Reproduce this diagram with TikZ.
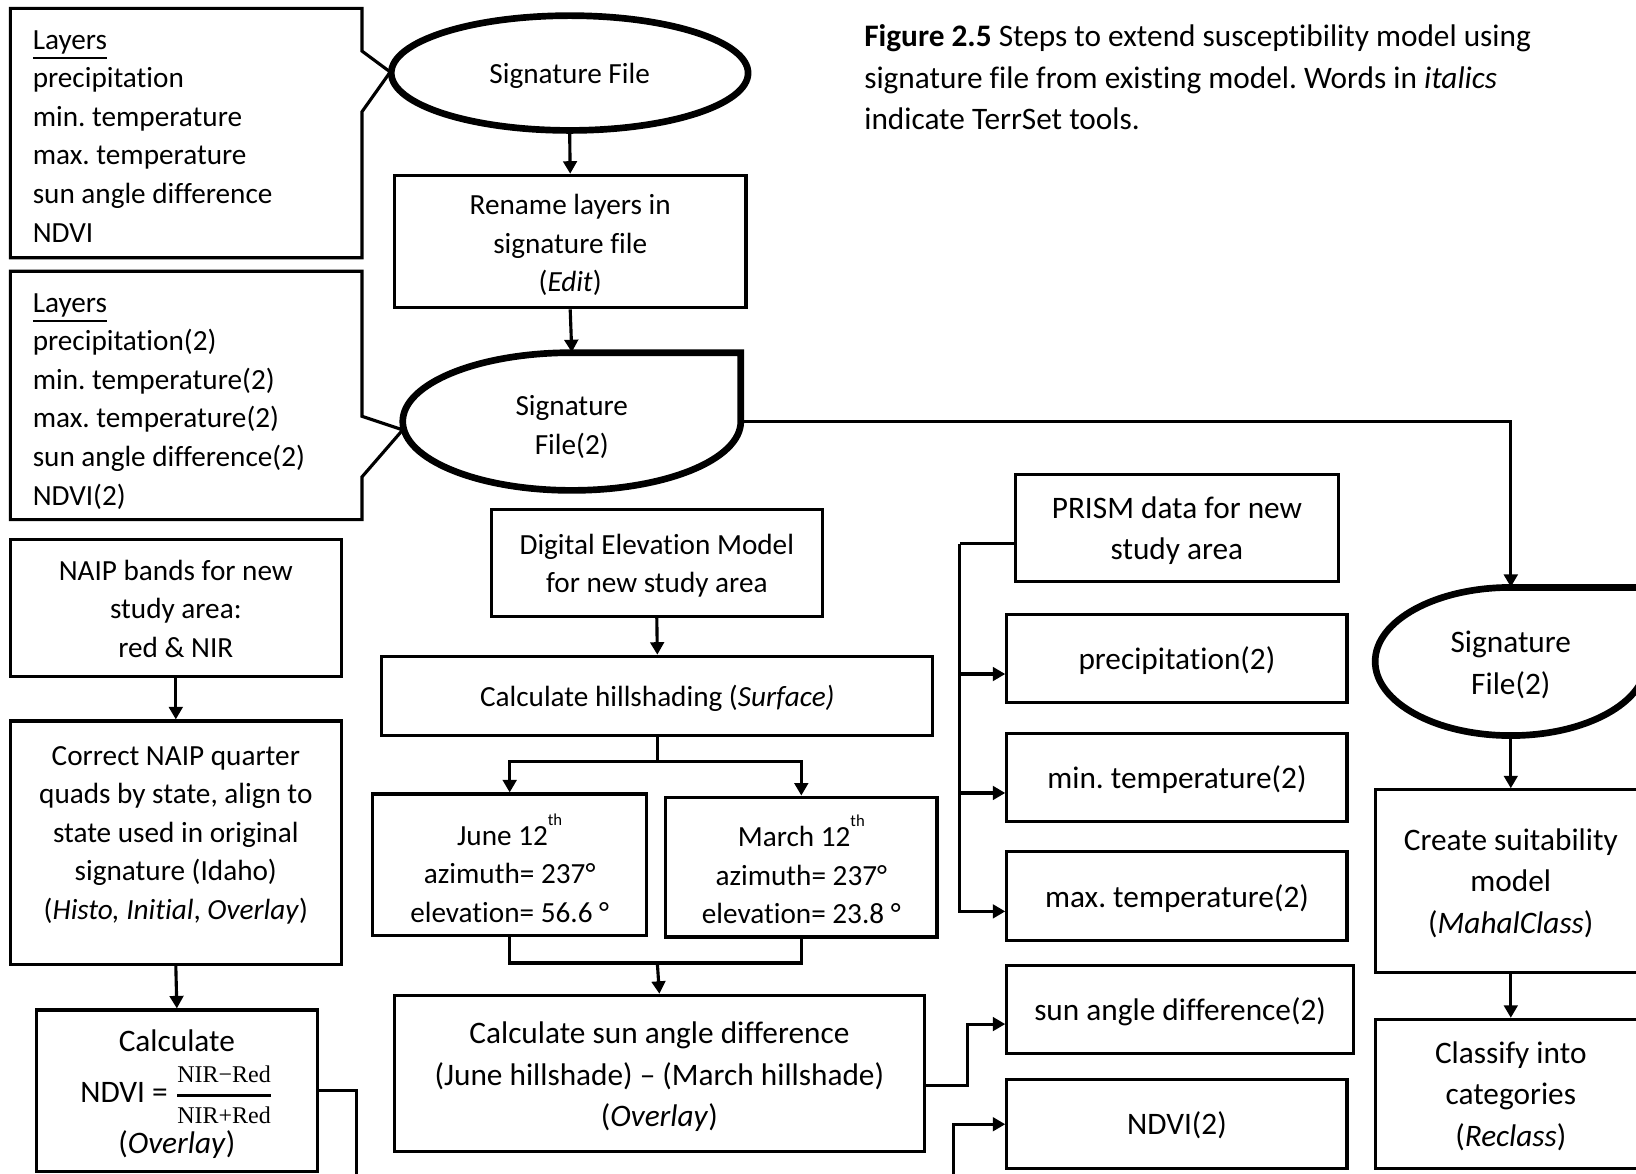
\documentclass[tikz,border=0pt]{standalone}
\usepackage{amsmath}
\usepackage{fontspec}
\setmainfont{Carlito}[Ligatures=NoCommon]
\newfontfamily\cambr{Liberation Serif}
\usetikzlibrary{arrows.meta,shapes.geometric}
\newcommand\fA{\fontsize{14}{18.5}\selectfont}
\newcommand\fB{\fontsize{15}{20}\selectfont}
\newcommand\rbox[8][\fA]{%
  \node[box,minimum width={(#5-#3)*0.5}, minimum height={(#6-#4)*0.5}] (#2) at ({(#3+#5)/2},{(#4+#6)/2}) {};
  \node[txt,font=#1] (#2t) at ({(#3+#5)/2},#7) {#8};}
\newcommand\thsup{\raisebox{9.5pt}{\fontsize{8}{8}\selectfont th}}
\frenchspacing
\begin{document}
\begin{tikzpicture}[x=0.5pt,y=-0.5pt,
  box/.style={draw, line width=1.5pt, inner sep=0pt},
  conn/.style={line width=1.5pt},
  arr/.style={line width=1.5pt, -{Triangle[length=6pt,width=6.5pt]}},
  fat/.style={line width=3.2pt, line join=miter},
  txt/.style={inner sep=0pt, align=center}
]
\useasboundingbox (0,0) rectangle (1568,1125);
\fill[white] (0,0) rectangle (1568,1125);

% Layers callouts
\draw[conn] (10,8) -- (347,8) -- (347,49) -- (374,69) -- (347,107) -- (347,247) -- (10,247) -- cycle;
\node[txt, align=left, anchor=west, font=\fA] (lay1) at (31,130.5) {\underline{Layers}\\precipitation\\min. temperature\\max. temperature\\sun angle difference\\NDVI};
\draw[conn] (10,260) -- (347,260) -- (347,399) -- (386,412) -- (347,457) -- (347,498) -- (10,498) -- cycle;
\node[txt, align=left, anchor=west, font=\fA] (lay2) at (31,384.5) {\underline{Layers}\\precipitation(2)\\min. temperature(2)\\max. temperature(2)\\sun angle difference(2)\\NDVI(2)};

% Signature file
\node[draw, ellipse, line width=3.2pt, minimum width=171pt, minimum height=55pt, inner sep=0pt] (sig1) at (546,70) {};
\node[txt, font=\fA] (sig1t) at (546,73) {Signature File};
\rbox{ren}{378}{168}{715}{295}{235}{Rename layers in\\signature file\\(\textit{Edit})}

% Signature File(2)
\draw[fat] (548,338) -- (710,338) -- (710,404) .. controls (710,440.5) and (637.5,470) .. (548,470) .. controls (458.5,470) and (386,440.5) .. (386,404) .. controls (386,367.5) and (458.5,338) .. (548,338) -- cycle;
\node[inner sep=0pt, minimum width=162pt, minimum height=66pt] (sig2) at (548,404) {};
\node[txt, font=\fA] (sig2t) at (548,409) {Signature\\File(2)};

\draw[arr] (sig1.south) -- (ren.north);
\draw[arr] (ren.south) -- (sig2.north);

% caption
\node[inner sep=0pt, anchor=north west, align=left, font=\fB] (cap) at (828,23) {\textbf{Figure 2.5} Steps to extend susceptibility model using\\signature file from existing model. Words in \textit{italics}\\indicate TerrSet tools.};

% right column
\draw[fat] (1448,563) -- (1578,563) -- (1578,634) .. controls (1578,673.2) and (1519.8,705) .. (1448,705) .. controls (1376.2,705) and (1318,673.2) .. (1318,634) .. controls (1318,594.8) and (1376.2,563) .. (1448,563) -- cycle;
\node[inner sep=0pt, minimum width=130pt, minimum height=71pt] (sig2r) at (1448,634) {};
\node[txt, font=\fB] (sig2rt) at (1448,637.5) {Signature\\File(2)};
\rbox[\fB]{suit}{1318}{757}{1578}{932}{846.5}{Create suitability\\model\\(\textit{MahalClass})}
\rbox[\fB]{cls}{1318}{977}{1578}{1120}{1050.5}{Classify into\\categories\\(\textit{Reclass})}
\draw[arr] (sig2.east) -| (sig2r.north);
\draw[arr] (sig2r.south) -- (suit.north);
\draw[arr] (suit.south) -- (cls.north);

% NAIP column
\rbox{naip}{10}{517}{327}{648}{583.5}{NAIP bands for new\\study area:\\red \& NIR}
\rbox{corr}{10}{691}{327}{924}{800.5}{Correct NAIP quarter\\quads by state, align to\\state used in original\\signature (Idaho)\\(\textit{Histo, Initial}, \textit{Overlay})}
\rbox[\fB]{ndvi}{35}{968}{304}{1123}{1049}{Calculate\\[4.5pt]NDVI = \smash{$\genfrac{}{}{1.2pt}{0}{\hbox{\cambr\fontsize{11.5}{12}\selectfont NIR−Red}}{\hbox{\cambr\fontsize{11.5}{12}\selectfont NIR+Red}}$}\\[4.5pt](\textit{Overlay})}
\draw[arr] (naip.south) -- (corr.north);
\draw[arr] (corr.south) -- (ndvi.north);

% DEM column
\rbox{dem}{471}{488}{788}{591}{542}{Digital Elevation Model\\for new study area}
\rbox{hill}{366}{629}{894}{705}{669}{Calculate hillshading (\textit{Surface)}}
\rbox{june}{357}{761}{620}{897}{832}{June 12\thsup\\azimuth= 237°\\elevation= 56.6 °}
\rbox{march}{638}{764}{898}{898}{833.5}{March 12\thsup\\azimuth= 237°\\elevation= 23.8 °}
\rbox[\fB]{sun}{378}{954}{886}{1104}{1032}{Calculate sun angle difference\\(June hillshade) – (March hillshade)\\(\textit{Overlay})}
\draw[arr] (dem.south) -- (hill.north);
\coordinate (split) at (630,730);
\draw[conn] (hill.south) -- (split);
\draw[arr] (split) -| (june.north);
\draw[arr] (split) -| (march.north);
\coordinate (join) at (630,923);
\draw[conn] (june.south) |- (join);
\draw[conn] (march.south) |- (join);
\draw[arr] (join) -- (sun.north);

% PRISM column
\rbox[\fB]{prism}{973}{455}{1283}{557}{508.5}{PRISM data for new\\study area}
\rbox[\fB]{precip}{965}{589}{1291}{673}{633}{precipitation(2)}
\rbox[\fB]{mint}{965}{703}{1291}{787}{747}{min. temperature(2)}
\rbox[\fB]{maxt}{965}{816}{1291}{901}{861.5}{max. temperature(2)}
\rbox[\fB]{sad}{965}{925}{1297}{1010}{969.5}{sun angle difference(2)}
\rbox[\fB]{ndvi2}{965}{1035}{1291}{1120}{1078.5}{NDVI(2)}
\coordinate (pbus) at (920,521);
\draw[conn] ([yshift=-7.5pt]prism.west) -- (pbus);
\draw[arr] (pbus) |- ([yshift=-7.5pt]precip.west);
\draw[arr] (pbus) |- ([yshift=-7.5pt]mint.west);
\draw[arr] (pbus) |- ([yshift=-7.5pt]maxt.west);
\draw[arr] ([yshift=-5.5pt]sun.east) -- ++(40,0) |- ([yshift=-7pt]sad.west);
\coordinate (nb1) at (342,1200);
\coordinate (nb2) at (914,1200);
\draw[arr] (ndvi.east) -| (nb1) -- (nb2) |- (ndvi2.west);
\end{tikzpicture}
\end{document}
